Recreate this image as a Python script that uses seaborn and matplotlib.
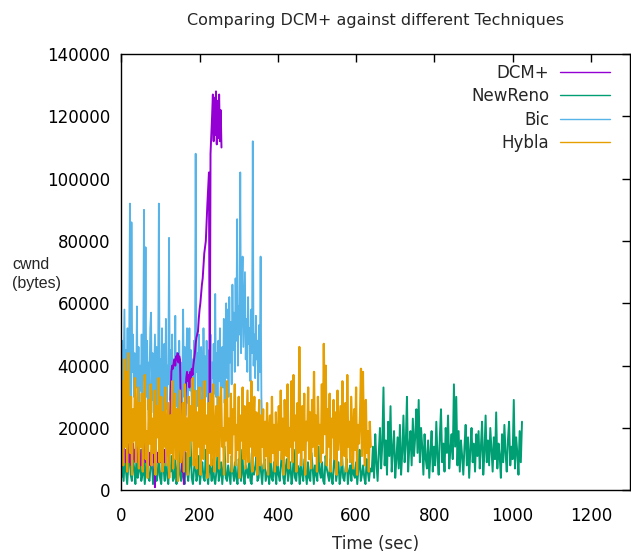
import numpy as np
import pandas as pd
import matplotlib
matplotlib.use("Agg")
import matplotlib.pyplot as plt
from matplotlib import font_manager
import seaborn as sns

# ---------------- data (cwnd in kilobytes) ----------------
title_text = "Comparing DCM+ against different Techniques"
x_label = "Time (sec)"
y_label = "cwnd\n(bytes)"
series_names = ["DCM+", "NewReno", "Bic", "Hybla"]
draw_order = ["NewReno", "Bic", "DCM+", "Hybla"]
series_colors = {"DCM+": "#9400d3", "NewReno": "#009e73", "Bic": "#56b4e9", "Hybla": "#e69f00"}
x_ticks = [0, 200, 400, 600, 800, 1000, 1200]
y_ticks = [0, 20000, 40000, 60000, 80000, 100000, 120000, 140000]
x_range = [0, 1300]
y_range = [0, 140000]

# sampling: (start time, step in seconds)
dcm_start, dcm_step = 0, 2
dcm_kb = [9, 12, 8, 14, 10, 9, 13, 11, 15, 10,
          9, 14, 11, 8, 12, 15, 10, 13, 9, 12,
          10, 14, 9, 12, 11, 8, 13, 10, 12, 15,
          11, 9, 13, 10, 14, 9, 12, 8, 11, 13,
          10, 9, 12, 1, 14, 10, 12, 9, 13, 11,
          9, 12, 10, 15, 11, 9, 13, 10, 12, 14,
          12, 16, 22, 30, 38,
          40, 39, 41, 42, 40, 43, 42, 44, 41, 43, 42,
          26, 12, 6, 9, 2, 14, 30, 36, 38, 35, 37, 33, 38, 36,
          39, 37, 40, 42, 44, 47, 49, 50, 51, 55, 58, 60, 63, 66,
          68, 72, 76, 78, 80, 86, 92, 97, 102, 28, 108, 114, 120,
          127, 112, 126, 114, 128, 111, 125, 113, 127, 112, 122, 110]

newreno_early_start, newreno_early_step = 0, 3
newreno_early_kb = [4, 9, 3, 12, 6, 2, 8, 14, 5, 3, 10, 7, 2, 11, 4, 6, 13, 3, 5, 9,
                    2, 7, 15, 4, 3, 8, 11, 2, 6, 10, 3, 5, 12, 4, 2, 9, 7, 3, 14, 5,
                    2, 8, 6, 11, 3, 4, 10, 2, 7, 13, 5, 3, 9, 4, 2, 12, 6, 3, 8, 16,
                    4, 2, 7, 10, 3, 5, 11, 2, 6, 9, 4, 3, 13, 5, 2, 8, 7, 3, 10, 4,
                    2, 6, 12, 3, 5, 9, 2, 7, 14, 4, 3, 8, 5, 2, 11, 6, 3, 9, 4, 2,
                    10, 7, 3, 13, 5, 2, 8, 6, 4, 12, 3, 2, 9, 5, 7, 11, 3, 4, 15, 6,
                    2, 8, 10, 3, 5, 7, 2, 12, 4, 3, 9, 6, 2, 11, 5, 3, 8, 14, 4, 2,
                    7, 10, 3, 6, 9, 2, 5, 13, 4, 3, 8, 7, 2, 11, 5, 3, 10, 6, 2, 9,
                    4, 3, 12, 7, 2, 8, 5, 3, 14, 6, 4, 9, 3, 2, 11, 7, 5, 3, 10, 4,
                    2, 8, 13, 3, 6, 9, 2, 5, 12, 4, 3, 7, 10, 2, 6, 8, 3, 11, 5, 4,
                    9, 2, 7, 13, 3, 5, 8, 4, 2, 10, 6, 3, 7]
newreno_late_start, newreno_late_step = 640, 3
newreno_late_kb = [6, 14, 4, 18, 9, 3, 12, 20, 7, 15,
                   33, 8, 16, 5, 22, 11, 27, 6, 13, 19,
                   4, 10, 17, 7, 21, 5, 12, 24, 9, 15,
                   30, 6, 14, 19, 8, 23, 11, 17, 26, 12,
                   29, 9, 20, 14, 5, 18, 10, 7, 16, 4,
                   12, 19, 6, 14, 8, 22, 11, 5, 17, 26,
                   9, 15, 6, 20, 12, 24, 7, 13, 18, 10,
                   34, 14, 30, 8, 19, 6, 16, 11, 5, 14,
                   21, 8, 17, 4, 13, 20, 9, 15, 6, 18,
                   11, 19, 7, 14, 22, 5, 12, 24, 9, 16,
                   8, 20, 13, 6, 17, 10, 25, 7, 15, 11,
                   4, 18, 9, 21, 12, 6, 16, 22, 8, 14,
                   10, 29, 7, 17, 12, 5, 19, 9, 22]

bic_start, bic_step = 0, 2
bic_kb = [30, 48, 22, 40, 58, 26, 45, 35, 52, 28,
          42, 92, 25, 86, 38, 50, 30, 44, 36, 33,
          59, 28, 46, 24, 40, 32, 50, 27, 43, 90,
          35, 78, 30, 48, 26, 41, 34, 52, 57, 29,
          44, 25, 38, 50, 31, 46, 27, 36, 92, 33,
          42, 28, 52, 24, 39, 47, 30, 55, 26, 40,
          34, 81, 29, 45, 36, 50, 25, 42, 31, 56,
          27, 44, 38, 22, 48, 33, 41, 26, 35, 58,
          30, 46, 24, 40, 52, 28, 37, 52, 32, 45,
          26, 42, 35, 48, 30, 108, 38, 44, 27, 50,
          36, 29, 46, 40, 25, 52, 34, 43, 30, 48,
          38, 26, 45, 33, 50, 28, 41, 36, 47, 31,
          63, 30, 44, 25, 48, 35, 52, 29, 40, 46,
          33, 55, 28, 47, 60, 36, 58, 30, 62, 41,
          54, 34, 66, 45, 57, 38, 68, 48, 87, 40,
          59, 50, 102, 44, 64, 75, 46, 58, 70, 42,
          55, 38, 62, 47, 52, 35, 58, 44, 112, 40,
          50, 36, 56, 42, 48, 32, 53, 38, 75, 30,
          22]

hybla_early_start, hybla_early_step = 0, 2.5
hybla_early_kb = [18, 35, 8, 42, 14, 38, 6, 44, 20, 12,
                  30, 5, 26, 16, 36, 9, 22, 33, 7, 28,
                  14, 31, 6, 24, 37, 10, 19, 4, 29, 15,
                  34, 8, 23, 12, 32, 5, 27, 17, 36, 9,
                  21, 30, 6, 25, 14, 33, 8, 18, 28, 4,
                  24, 12, 35, 7, 20, 31, 10, 26, 3, 22,
                  32, 9, 17, 28, 6, 34, 13, 23, 5, 30,
                  11, 27, 16, 36, 8, 21, 32, 7, 25, 14,
                  33, 5, 19, 29, 10, 35, 15, 24, 4, 28,
                  12, 31, 8, 22, 34, 6, 18, 27, 11, 30,
                  7, 25, 33, 14, 20, 5, 29, 16, 35, 9,
                  23, 12, 31, 6, 26, 18, 34, 8, 21, 13,
                  30, 4, 24, 16, 33, 10, 27, 7, 20, 32,
                  9, 28, 14, 35, 6, 22, 30, 11, 25, 5,
                  18, 29, 8, 24]
hybla_late_start, hybla_late_step = 360, 2.5
hybla_late_kb = [14, 26, 7, 22, 11, 28, 5, 19, 24, 9,
                 30, 12, 21, 6, 25, 15, 8, 27, 13, 32,
                 10, 23, 5, 29, 17, 11, 34, 7, 20, 14,
                 35, 9, 37, 16, 24, 6, 28, 12, 46, 18,
                 8, 27, 13, 31, 5, 22, 16, 33, 10, 25,
                 7, 29, 14, 38, 11, 24, 6, 30, 15, 21,
                 9, 34, 12, 47, 18, 40, 8, 26, 14, 31,
                 6, 23, 17, 29, 10, 25, 5, 32, 13, 20,
                 27, 8, 35, 16, 11, 28, 6, 37, 14, 22,
                 9, 30, 18, 7, 26, 13, 33, 5, 21, 15,
                 24, 39, 11, 38, 17, 8, 29, 12, 19, 6, 22, 14]


def segment(name, start, step, values_kb):
    t = start + step * np.arange(len(values_kb))
    return pd.DataFrame({"time": t, "cwnd": np.asarray(values_kb, float) * 1000.0, "series": name})


df = pd.concat([
    segment("DCM+", dcm_start, dcm_step, dcm_kb),
    segment("NewReno", newreno_early_start, newreno_early_step, newreno_early_kb),
    segment("NewReno", newreno_late_start, newreno_late_step, newreno_late_kb),
    segment("Bic", bic_start, bic_step, bic_kb),
    segment("Hybla", hybla_early_start, hybla_early_step, hybla_early_kb),
    segment("Hybla", hybla_late_start, hybla_late_step, hybla_late_kb),
], ignore_index=True)

line_widths = {"DCM+": 1.4, "NewReno": 1.4, "Bic": 1.3, "Hybla": 1.6}

# ---------------- style ----------------
sns.set_style("white")
available = {f.name for f in font_manager.fontManager.ttflist}
plt.rcParams["font.family"] = ["DejaVu Sans"]
label_font = "Liberation Sans" if "Liberation Sans" in available else "DejaVu Sans"

W, H = 631, 558
fig = plt.figure(figsize=(W / 100, H / 100), dpi=100)
ax_l, ax_r, ax_t, ax_b = 121.3, 630.0, 54.0, 490.3
ax = fig.add_axes([ax_l / W, 1 - ax_b / H, (ax_r - ax_l) / W, (ax_b - ax_t) / H])

handles = {}
for name in draw_order:
    sub = df[df["series"] == name]
    sns.lineplot(data=sub, x="time", y="cwnd", ax=ax, color=series_colors[name],
                 linewidth=line_widths[name], estimator=None, sort=False, legend=False)
    handles[name] = ax.lines[-1]

ax.set_xlim(*x_range)
ax.set_ylim(*y_range)
ax.set_xticks(x_ticks)
ax.set_yticks(y_ticks)
ax.set_xticklabels([str(v) for v in x_ticks])
ax.set_yticklabels([str(v) for v in y_ticks])
ax.tick_params(direction="in", length=5.5, width=1, top=True, right=True,
               labelsize=12, colors="black", pad=8)
ax.tick_params(axis="x", pad=12)
for s in ax.spines.values():
    s.set_color("black")
    s.set_linewidth(1)
    s.set_visible(True)

ax.set_title(title_text, fontsize=11.5, pad=21)
ax.set_xlabel(x_label, fontsize=12, labelpad=7)
ax.set_ylabel(y_label, fontsize=11.5, rotation=0, ha="left", va="center",
              family=[label_font, "DejaVu Sans"], linespacing=1.3)
ax.yaxis.set_label_coords((12 - ax_l) / (ax_r - ax_l), (ax_b - 274) / (ax_b - ax_t))

leg = ax.legend([handles[n] for n in series_names], series_names,
                loc="upper right", bbox_to_anchor=((610 - ax_l) / (ax_r - ax_l), (ax_b - 64) / (ax_b - ax_t)),
                borderaxespad=0, borderpad=0, frameon=False, markerfirst=False,
                fontsize=12, handlelength=3.0, handletextpad=0.65, labelspacing=0.32)
for line in leg.get_lines():
    line.set_linewidth(1.0)

fig.savefig("out.png", dpi=100)
